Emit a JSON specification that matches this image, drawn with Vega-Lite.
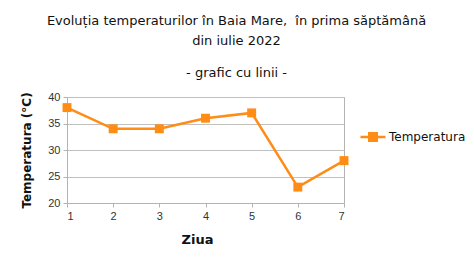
{
  "$schema": "https://vega.github.io/schema/vega-lite/v6.json",
  "autosize": "none",
  "width": 277,
  "height": 106,
  "padding": {"left": 67, "top": 97, "right": 130, "bottom": 63},
  "background": "white",
  "title": {
    "text": ["Evoluția temperaturilor în Baia Mare,\u00a0 în prima săptămână", "din iulie 2022"],
    "subtitle": "- grafic cu linii -",
    "anchor": "middle",
    "dx": 31,
    "offset": 11,
    "font": "DejaVu Sans",
    "fontSize": 13,
    "fontWeight": "normal",
    "lineHeight": 20,
    "color": "#111",
    "subtitleFont": "DejaVu Sans",
    "subtitleFontSize": 13,
    "subtitleColor": "#111",
    "subtitlePadding": 19
  },
  "data": {
    "values": [
      {"zi": 1, "t": 38},
      {"zi": 2, "t": 34},
      {"zi": 3, "t": 34},
      {"zi": 4, "t": 36},
      {"zi": 5, "t": 37},
      {"zi": 6, "t": 23},
      {"zi": 7, "t": 28}
    ]
  },
  "mark": {
    "type": "line",
    "strokeWidth": 2.5,
    "point": {"shape": "square", "filled": true, "size": 80, "opacity": 1}
  },
  "encoding": {
    "x": {
      "field": "zi",
      "type": "quantitative",
      "scale": {"domain": [1, 7], "nice": false},
      "axis": {
        "title": "Ziua",
        "values": [1, 2, 3, 4, 5, 6, 7],
        "grid": false,
        "titleFont": "DejaVu Sans",
        "titleFontSize": 13,
        "titleFontWeight": "bold",
        "titleColor": "#111",
        "titlePadding": 12,
        "titleX": 130
      }
    },
    "y": {
      "field": "t",
      "type": "quantitative",
      "scale": {"domain": [20, 40], "nice": false, "zero": false},
      "axis": {
        "title": "Temperatura (°C)",
        "values": [20, 25, 30, 35, 40],
        "titleFont": "DejaVu Sans",
        "titleFontSize": 12,
        "titleFontWeight": "bold",
        "titleColor": "#111",
        "titlePadding": 14
      }
    },
    "color": {
      "datum": "Temperatura",
      "scale": {"range": ["#ff8c14"]},
      "legend": {
        "title": null,
        "orient": "none",
        "legendX": 292,
        "legendY": 26,
        "symbolType": "M-1,0H1M-0.3,-0.3H0.3V0.3H-0.3Z",
        "symbolSize": 625,
        "symbolStrokeWidth": 2.5,
        "symbolFillColor": "#ff8c14",
        "labelFont": "DejaVu Sans",
        "labelFontSize": 12,
        "labelColor": "#111",
        "labelOffset": 2
      }
    }
  },
  "config": {
    "view": {"stroke": "#b3b3b3", "strokeWidth": 1},
    "axis": {
      "domainColor": "#b3b3b3",
      "tickColor": "#b3b3b3",
      "gridColor": "#c0c0c0",
      "gridWidth": 1,
      "tickSize": 4,
      "labelFont": "Liberation Sans",
      "labelFontSize": 11,
      "labelColor": "#333",
      "labelPadding": 3
    }
  }
}
